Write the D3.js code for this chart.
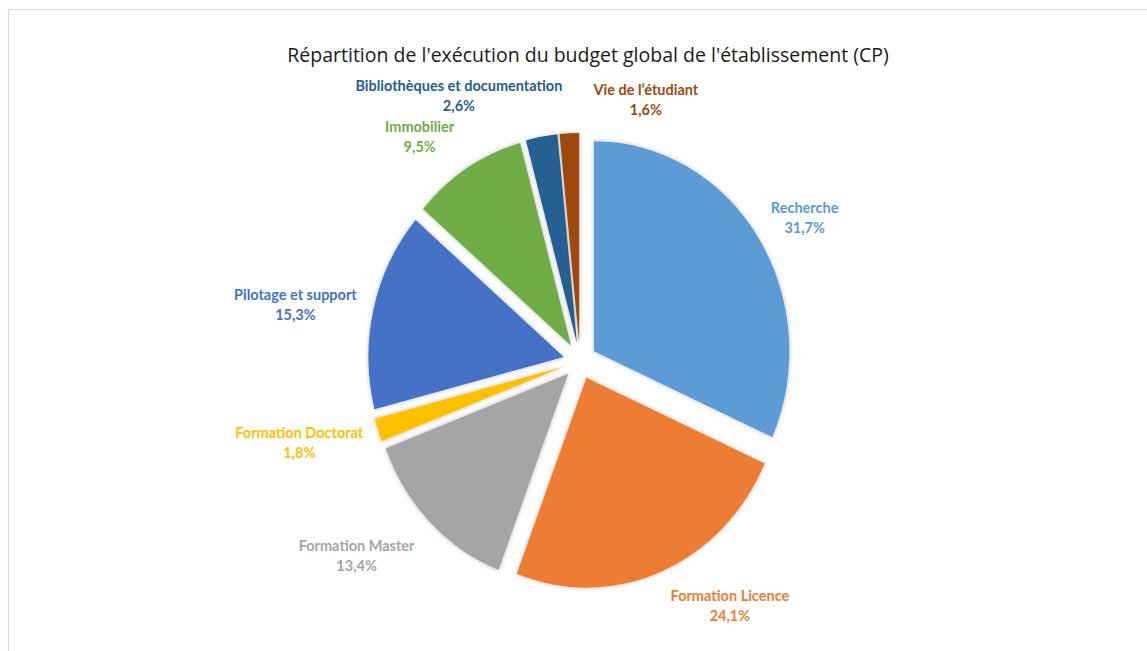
<!DOCTYPE html>
<html>
<head>
<meta charset="utf-8">
<script src="https://cdn.jsdelivr.net/npm/d3@7"></script>
<style>
  html, body { margin: 0; padding: 0; background: #fff; }
  svg { display: block; }
</style>
</head>
<body>
<svg id="chart" width="1147" height="651"></svg>
<script>
// ---- data ----
const categories = ["Recherche", "Formation Licence", "Formation Master", "Formation Doctorat",
                    "Pilotage et support", "Immobilier", "Bibliothèques et documentation", "Vie de l\u2019étudiant"];
const values = [31.7, 24.1, 13.4, 1.8, 15.3, 9.5, 2.6, 1.6];
const valueLabels = ["31,7%", "24,1%", "13,4%", "1,8%", "15,3%", "9,5%", "2,6%", "1,6%"];
const colors = ["#5B9BD5", "#ED7D31", "#A5A5A5", "#FFC000", "#4472C4", "#70AD47", "#255E91", "#9E480E"];
const title = "Répartition de l'exécution du budget global de l'établissement (CP)";

// ---- layout ----
const W = 1147, H = 651;
const cx = 580, cy = 361, R = 210, explode = 18, sx = 0.93;
const labelR = 282;
// small label nudges (best-fit placement like the original)
const nudge = [[-12, 10], [42, -16], [-24, -4], [-12, -3], [-10, 8], [-10, 15], [-70, 12], [80, 21]];

const svg = d3.select("#chart");

// frame
svg.append("rect").attr("x", 8.5).attr("y", 9.5).attr("width", 1200).attr("height", 700)
  .attr("fill", "#fff").attr("stroke", "#d9d9d9").attr("stroke-width", 1.2);

const defs = svg.append("defs");
const f = defs.append("filter").attr("id", "sh").attr("x", "-20%").attr("y", "-20%").attr("width", "140%").attr("height", "140%");
f.append("feDropShadow").attr("dx", 0).attr("dy", 0).attr("stdDeviation", 2.2)
  .attr("flood-color", "#000").attr("flood-opacity", 0.28);

// title
svg.append("text").attr("x", 588).attr("y", 62).attr("text-anchor", "middle")
  .attr("font-family", "Open Sans, sans-serif").attr("font-size", 19.5).attr("fill", "#1a1a1a")
  .text(title);

const data = categories.map((c, i) => ({ cat: c, value: values[i], label: valueLabels[i], color: colors[i] }));
const pie = d3.pie().value(d => d.value).sort(null);
const arcs = pie(data);
const arc = d3.arc().innerRadius(0).outerRadius(R);

const g = svg.append("g").attr("transform", `translate(${cx},${cy}) scale(${sx},1)`);
g.selectAll("path").data(arcs).join("path")
  .attr("d", arc)
  .attr("fill", d => d.data.color)
  .attr("filter", "url(#sh)")
  .attr("transform", d => {
    const a = (d.startAngle + d.endAngle) / 2;
    return `translate(${explode * Math.sin(a)},${-explode * Math.cos(a)})`;
  });

// labels
const lg = svg.append("g").attr("font-family", "Lato, sans-serif").attr("font-weight", "bold").attr("font-size", 14.5);
arcs.forEach((d, i) => {
  const a = (d.startAngle + d.endAngle) / 2;
  const x = cx + labelR * Math.sin(a) + nudge[i][0];
  const y = cy - labelR * Math.cos(a) + nudge[i][1];
  const t = lg.append("text").attr("text-anchor", "middle").attr("fill", d.data.color);
  t.append("tspan").attr("x", x).attr("y", y - 5).text(d.data.cat);
  t.append("tspan").attr("x", x).attr("y", y + 15).text(d.data.label);
});
</script>
</body>
</html>
